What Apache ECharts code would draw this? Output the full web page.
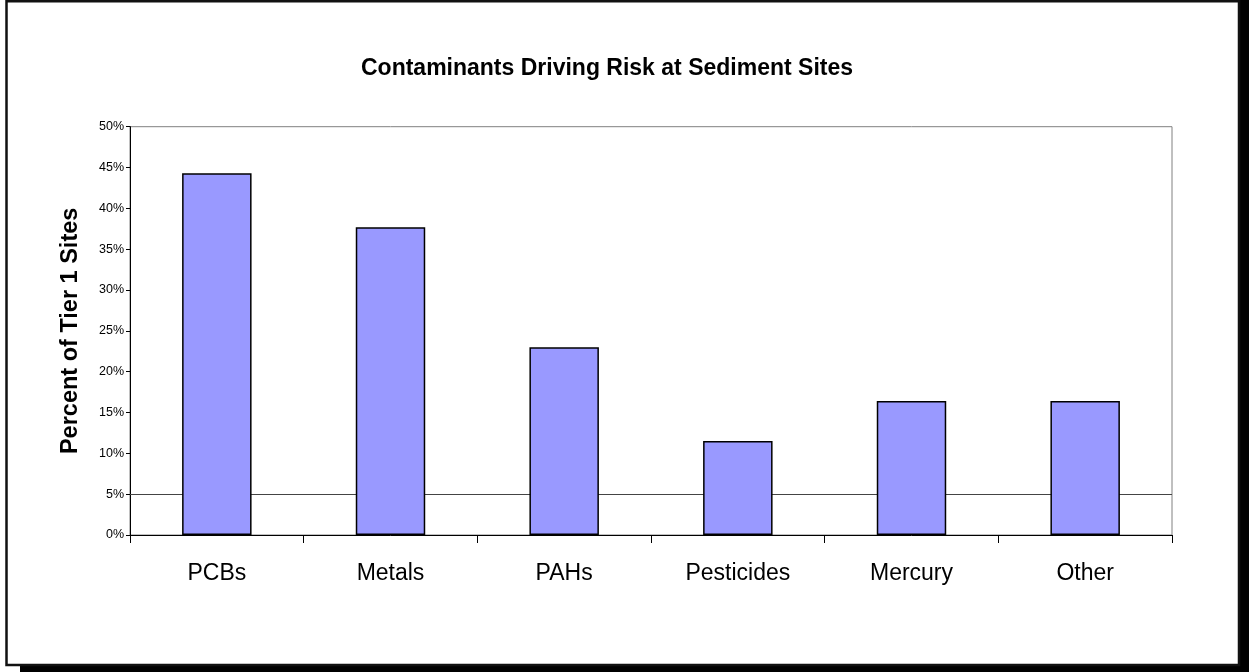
<!DOCTYPE html>
<html>
<head>
<meta charset="utf-8">
<script src="https://cdn.jsdelivr.net/npm/echarts@6/dist/echarts.min.js"></script>
<style>
  html, body { margin: 0; padding: 0; background: #fff; }
  #chart { width: 1249px; height: 672px; }
</style>
</head>
<body>
<div id="chart"></div>
<script>
const categories = ['PCBs', 'Metals', 'PAHs', 'Pesticides', 'Mercury', 'Other'];
const percentTier1 = [44.3, 37.7, 23.0, 11.5, 16.4, 16.4];
const yTicks = { min: 0, max: 50, interval: 5 };
const referenceLine = 5;

const FONT = 'Arial, "Liberation Sans", sans-serif';
const chart = echarts.init(document.getElementById('chart'));
chart.setOption({
  backgroundColor: '#fff',
  animation: false,
  graphic: {
    z: -10,
    elements: [
      { type: 'rect', z: -10, shape: { x: 20, y: 0, width: 1229, height: 672 }, style: { fill: '#000' } },
      { type: 'rect', z: -9, shape: { x: 6.5, y: 1.2, width: 1232.5, height: 663.8 }, style: { fill: '#fff', stroke: '#111', lineWidth: 2.5 } }
    ]
  },
  title: {
    text: 'Contaminants Driving Risk at Sediment Sites',
    left: 602,
    textAlign: 'center',
    top: 52,
    textStyle: { fontFamily: FONT, fontSize: 23, fontWeight: 'bold', color: '#000' }
  },
  grid: {
    left: 130, right: 77, top: 126.7, bottom: 137,
    show: true, borderColor: '#808080', borderWidth: 1, backgroundColor: 'transparent'
  },
  xAxis: {
    type: 'category',
    data: categories,
    axisLine: { lineStyle: { color: '#000', width: 1 } },
    axisTick: { show: true, length: 8, lineStyle: { color: '#000' } },
    axisLabel: { fontFamily: FONT, fontSize: 23, color: '#000', margin: 27, interval: 0 }
  },
  yAxis: {
    type: 'value',
    min: yTicks.min, max: yTicks.max, interval: yTicks.interval,
    name: 'Percent of Tier 1 Sites',
    nameLocation: 'middle',
    nameRotate: 90,
    nameGap: 47,
    nameTextStyle: { fontFamily: FONT, fontSize: 23.5, fontWeight: 'bold', color: '#000', padding: [0, 0, 0, 0] },
    axisLine: { show: true, lineStyle: { color: '#000', width: 1 } },
    axisTick: { show: true, length: 4, lineStyle: { color: '#000' } },
    axisLabel: { formatter: '{value}%', fontFamily: FONT, fontSize: 12.5, color: '#000', margin: 6 },
    splitLine: { show: false }
  },
  series: [
    {
      type: 'line',
      data: [],
      z: 1,
      silent: true,
      markLine: {
        z: 1,
        silent: true,
        symbol: 'none',
        label: { show: false },
        lineStyle: { color: '#444', width: 1, type: 'solid' },
        data: [{ yAxis: referenceLine }]
      }
    },
    {
      type: 'bar',
      data: percentTier1,
      z: 3,
      barWidth: '40%',
      itemStyle: { color: '#9999FF', borderColor: '#000', borderWidth: 1.5 }
    }
  ]
});
</script>
</body>
</html>
